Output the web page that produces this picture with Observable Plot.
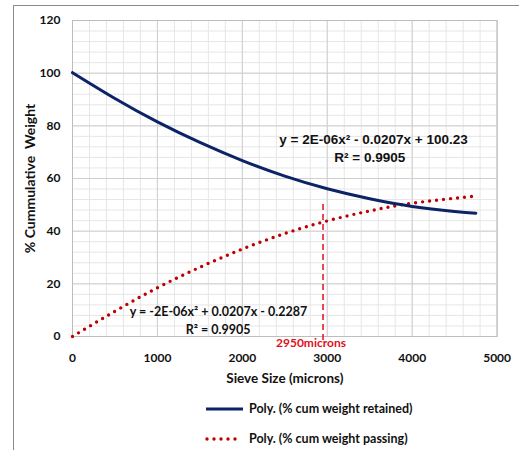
<!DOCTYPE html>
<html>
<head>
<meta charset="utf-8">
<script src="https://cdn.jsdelivr.net/npm/d3@7"></script>
<script src="https://cdn.jsdelivr.net/npm/@observablehq/plot@0.6"></script>
<style>
  html, body { margin: 0; padding: 0; background: #fff; }
  body { width: 519px; height: 450px; position: relative; overflow: hidden; font-family: Lato, "Open Sans", sans-serif; }
  #frame { position: absolute; left: 13px; top: 5px; width: 600px; height: 600px; border-left: 1.5px solid #8a8a8a; border-top: 1.5px solid #8a8a8a; pointer-events: none; }
  #legend { position: relative; width: 519px; height: 60px; font-weight: bold; font-size: 12.5px; color: #111; }
  .item { position: absolute; left: 205px; display: flex; align-items: center; }
  .item svg { margin-right: 4px; }
</style>
</head>
<body>
<div id="chart"></div>
<div id="legend">
  <div class="item" style="top:11px"><svg width="40" height="8"><line x1="1" y1="4" x2="38" y2="4" stroke="#0c2466" stroke-width="3"/></svg><span>Poly. (% cum weight retained)</span></div>
  <div class="item" style="top:41px"><svg width="40" height="8"><line x1="2" y1="4" x2="37" y2="4" stroke="#c00000" stroke-width="3.4" stroke-linecap="round" stroke-dasharray="0 7"/></svg><span>Poly. (% cum weight passing)</span></div>
</div>
<div id="frame"></div>
<script>
// Values
const sieveSize = [0, 500, 1000, 1500, 2000, 2500, 3000, 3500, 4000, 4500, 4750];
const retained  = [100.2, 90.4, 81.5, 73.7, 66.8, 60.9, 56.1, 52.3, 49.4, 47.5, 46.8];
const passing   = [0, 9.6, 18.5, 26.3, 33.2, 39.1, 43.9, 47.7, 50.6, 52.5, 53.3];
const xTicks = [0, 1000, 2000, 3000, 4000, 5000];
const yTicks = [0, 20, 40, 60, 80, 100, 120];
const minorX = d3.range(0, 5001, 200);
const minorY = d3.range(0, 121, 4);
const markerX = 2950;
const markerTop = 50.5;
const markerLabel = "2950microns";
const eqRetained = "y = 2E-06x² - 0.0207x + 100.23";
const r2Retained = "R² = 0.9905";
const eqPassing = "y = -2E-06x² + 0.0207x - 0.2287";
const r2Passing = "R² = 0.9905";

const retainedData = sieveSize.map((x, i) => ({x, y: retained[i]}));
const passingData = sieveSize.map((x, i) => ({x, y: passing[i]}));

const chart = Plot.plot({
  width: 519,
  height: 390,
  marginLeft: 72,
  marginRight: 22.4,
  marginTop: 20,
  marginBottom: 54,
  style: {fontFamily: "Lato, 'Open Sans', sans-serif", background: "#fff", color: "#111"},
  x: {domain: [0, 5000]},
  y: {domain: [0, 120]},
  marks: [
    Plot.ruleX(minorX, {stroke: "#e6e6e6", strokeWidth: 1}),
    Plot.ruleY(minorY, {stroke: "#e6e6e6", strokeWidth: 1}),
    Plot.ruleX(xTicks, {stroke: "#cfcfcf", strokeWidth: 1}),
    Plot.ruleY(yTicks, {stroke: "#cfcfcf", strokeWidth: 1}),
    Plot.frame({stroke: "#bdbdbd", strokeWidth: 1}),
    Plot.axisX({ticks: xTicks, tickSize: 0, tickPadding: 17, label: null, fontSize: 12, fontWeight: "bold", tickFormat: d => String(d)}),
    Plot.axisY({ticks: yTicks, tickSize: 0, tickPadding: 12, label: null, fontSize: 12, fontWeight: "bold", tickFormat: d => String(d)}),
    Plot.text(["Sieve Size (microns)"], {frameAnchor: "bottom", dy: 46, fontSize: 13.5, fontWeight: "bold", fill: "#111"}),
    Plot.text(["% Cummulative  Weight"], {frameAnchor: "left", textAnchor: "middle", dx: -42, rotate: -90, fontSize: 14, fontWeight: "bold", fill: "#111"}),
    Plot.ruleX([markerX], {y1: -1.5, y2: markerTop, stroke: "#e0101a", strokeWidth: 1.5, strokeDasharray: "6,4"}),
    Plot.line(passingData, {x: "x", y: "y", curve: "natural", stroke: "#c00000", strokeWidth: 3.4, strokeLinecap: "round", strokeDasharray: "0,7"}),
    Plot.line(retainedData, {x: "x", y: "y", curve: "natural", stroke: "#0c2466", strokeWidth: 3}),
    Plot.text([markerLabel], {x: markerX, y: 0, dx: -12, dy: 7, fill: "#e0101a", fontWeight: "bold", fontSize: 12}),
    Plot.text([eqRetained], {x: 3545, y: 74.8, fontSize: 13.5, fontWeight: "bold", fill: "#111", fontFamily: "'Liberation Sans', Arial, sans-serif"}),
    Plot.text([r2Retained], {x: 3500, y: 67.9, fontSize: 13.5, fontWeight: "bold", fill: "#111", fontFamily: "'Liberation Sans', Arial, sans-serif"}),
    Plot.text([eqPassing], {x: 1719, y: 9.3, fontSize: 12.5, fontWeight: "bold", fill: "#111"}),
    Plot.text([r2Passing], {x: 1715, y: 2.3, fontSize: 12.5, fontWeight: "bold", fill: "#111"})
  ]
});
document.getElementById("chart").appendChild(chart);
</script>
</body>
</html>
